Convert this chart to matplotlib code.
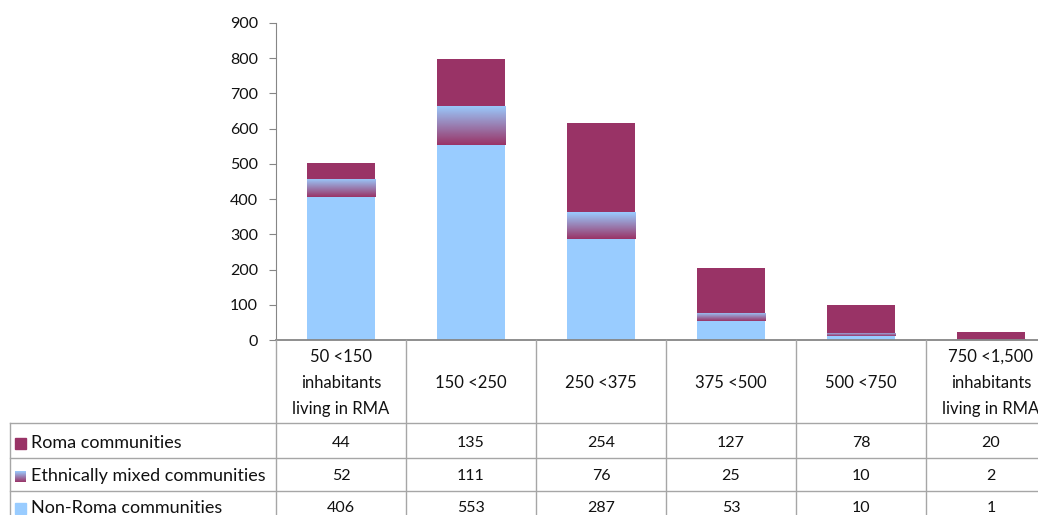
import numpy as np
import matplotlib
matplotlib.use("Agg")
import matplotlib.pyplot as plt
from matplotlib.colors import LinearSegmentedColormap
from matplotlib.patches import Rectangle
from matplotlib.lines import Line2D
import matplotlib.transforms as mtransforms

# ---- data ----
categories = ["50 <150\ninhabitants\nliving in RMA", "150 <250", "250 <375",
              "375 <500", "500 <750", "750 <1,500\ninhabitants\nliving in RMA"]
series_names = ["Roma communities", "Ethnically mixed communities", "Non-Roma communities"]
roma = [44, 135, 254, 127, 78, 20]
mixed = [52, 111, 76, 25, 10, 2]
non_roma = [406, 553, 287, 53, 10, 1]
y_ticks = [0, 100, 200, 300, 400, 500, 600, 700, 800, 900]

PURPLE = "#993366"
BLUE = "#99CCFF"
GRID = "#A6A6A6"
AXC = "#868686"
FONT = "Lato"
plt.rcParams["font.family"] = [FONT, "DejaVu Sans"]

W, H = 1038, 515
fig = plt.figure(figsize=(W / 100, H / 100), dpi=100)


def fx(px):
    return px / W


def fy(py):
    return 1 - py / H


cmap = LinearSegmentedColormap.from_list("g", [BLUE, PURPLE])
grad = np.linspace(0, 1, 256).reshape(-1, 1)

ax = fig.add_axes([fx(276), fy(340), 780 / W, 317 / H])
x = np.arange(len(categories))
bw = 0.53
ax.bar(x, non_roma, bw, color=BLUE, zorder=2)
for xi, b, h in zip(x, non_roma, mixed):
    rect = ax.bar(xi, h, bw, bottom=b, facecolor="none", edgecolor="none", zorder=2)[0]
    im = ax.imshow(grad, cmap=cmap, extent=[xi - bw / 2, xi + bw / 2, b + h, b],
                   aspect="auto", origin="lower", zorder=2, interpolation="bilinear")
    im.set_clip_path(rect)
ax.bar(x, roma, bw, bottom=np.add(non_roma, mixed), color=PURPLE, zorder=2)

ax.set_xlim(-0.5, len(categories) - 0.5)
ax.set_ylim(0, 900)
ax.set_yticks(y_ticks)
ax.set_yticklabels([str(v) for v in y_ticks], fontsize=11.5, color="#111111")
ax.set_xticks([])
for s in ["top", "right"]:
    ax.spines[s].set_visible(False)
ax.spines["left"].set_color(AXC)
ax.spines["bottom"].set_color(AXC)
ax.spines["bottom"].set_linewidth(1.3)
ax.tick_params(axis="y", direction="out", length=5, color=AXC, pad=8)

# ---- data table ----
trans = mtransforms.blended_transform_factory(ax.transData, fig.transFigure)
row_lines = [423, 458, 491]
row_centers = [443, 476, 508]
header_c = 383

for b in np.arange(len(categories) + 1) - 0.5:
    fig.add_artist(Line2D([b, b], [fy(340), 0], transform=trans, color=GRID, lw=1))
for r in row_lines:
    fig.add_artist(Line2D([fx(10), 1], [fy(r), fy(r)], transform=fig.transFigure, color=GRID, lw=1))
fig.add_artist(Line2D([fx(10), fx(10)], [fy(row_lines[0]), 0], transform=fig.transFigure, color=GRID, lw=1))

for xi, lab in zip(x, categories):
    fig.text(xi, fy(header_c), lab, transform=trans, ha="center", va="center",
             fontsize=12, linespacing=1.8, color="#111111")

for rc, name, vals in zip(row_centers, series_names, [roma, mixed, non_roma]):
    fig.text(fx(31), fy(rc), name, ha="left", va="center", fontsize=13, color="#111111")
    for xi, v in zip(x, vals):
        fig.text(xi, fy(rc), str(v), transform=trans, ha="center", va="center",
                 fontsize=11.5, color="#111111")

# legend keys
ks = 11
fig.add_artist(Rectangle((fx(15), fy(row_centers[0] + ks / 2)), ks / W, ks / H,
                         transform=fig.transFigure, color=PURPLE))
kax = fig.add_axes([fx(15), fy(row_centers[1] + ks / 2), ks / W, ks / H])
kax.imshow(grad, cmap=cmap, aspect="auto", interpolation="bilinear")
kax.axis("off")
fig.add_artist(Rectangle((fx(15), fy(row_centers[2] + ks / 2)), ks / W, ks / H,
                         transform=fig.transFigure, color=BLUE))

fig.savefig("out.png", dpi=100)
